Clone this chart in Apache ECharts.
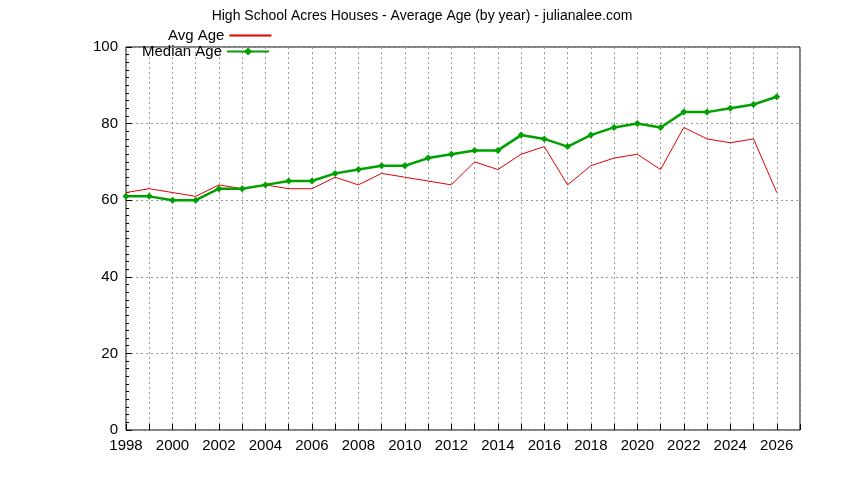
<!DOCTYPE html><html><head><meta charset="utf-8"><script src="https://cdn.jsdelivr.net/npm/echarts@6/dist/echarts.min.js"></script></head><body style="margin:0"><div id="c" style="width:844px;height:480px"></div><script>
const years=[1998,1999,2000,2001,2002,2003,2004,2005,2006,2007,2008,2009,2010,2011,2012,2013,2014,2015,2016,2017,2018,2019,2020,2021,2022,2023,2024,2025,2026];
const avgAge=[62,63,62,61,64,63,64,63,63,66,64,67,66,65,64,70,68,72,74,64,69,71,72,68,79,76,75,76,62];
const medianAge=[61,61,60,60,63,63,64,65,65,67,68,69,69,71,72,73,73,77,76,74,77,79,80,79,83,83,84,85,87];
const title='High School Acres Houses - Average Age (by year) - julianalee.com';
const f='Liberation Sans, Arial, sans-serif';
const ch=echarts.init(document.getElementById('c'));
ch.setOption({animation:false,
title:{text:title,left:'center',top:4,textStyle:{fontFamily:f,fontSize:14,fontWeight:'normal',color:'#000'}},
legend:[{data:[{name:'Avg Age',itemStyle:{opacity:0}}],left:163,top:23,align:'right',itemWidth:42,itemHeight:10,textStyle:{fontFamily:f,fontSize:15,color:'#000'}},
{data:['Median Age'],left:137,top:39,align:'right',itemWidth:42,itemHeight:10,textStyle:{fontFamily:f,fontSize:15,color:'#000'}}],
grid:{left:126,right:44,top:47,bottom:50},
xAxis:{type:'value',min:1998,max:2027,interval:1,axisLine:{show:false},
axisTick:{inside:true,length:6,lineStyle:{color:'#000'}},minorTick:{show:false},
axisLabel:{fontFamily:f,fontSize:15,color:'#000',formatter:v=>(v%2===0&&v<=2026)?String(v):''},
splitLine:{lineStyle:{type:[2,3],color:'#999'}}},
yAxis:{type:'value',min:0,max:100,interval:20,axisLine:{show:false},
axisTick:{inside:true,length:6,lineStyle:{color:'#000'}},minorTick:{show:true,splitNumber:10,length:3,lineStyle:{color:'#000'}},
axisLabel:{fontFamily:f,fontSize:15,color:'#000'},
splitLine:{lineStyle:{type:[2,3],color:'#999'}}},
graphic:[{type:'rect',shape:{x:126,y:47,width:674,height:383},style:{fill:'none',stroke:'#000',lineWidth:1},silent:true}],
series:[
{name:'Avg Age',type:'line',data:years.map((y,i)=>[y,avgAge[i]]),showSymbol:false,symbol:'none',lineStyle:{color:'#e00000',width:1},itemStyle:{color:'#e00000'}},
{name:'Median Age',type:'line',data:years.map((y,i)=>[y,medianAge[i]]),symbol:'diamond',symbolSize:7,lineStyle:{color:'#00a000',width:2.5},itemStyle:{color:'#00a000'}}
]});
</script></body></html>
